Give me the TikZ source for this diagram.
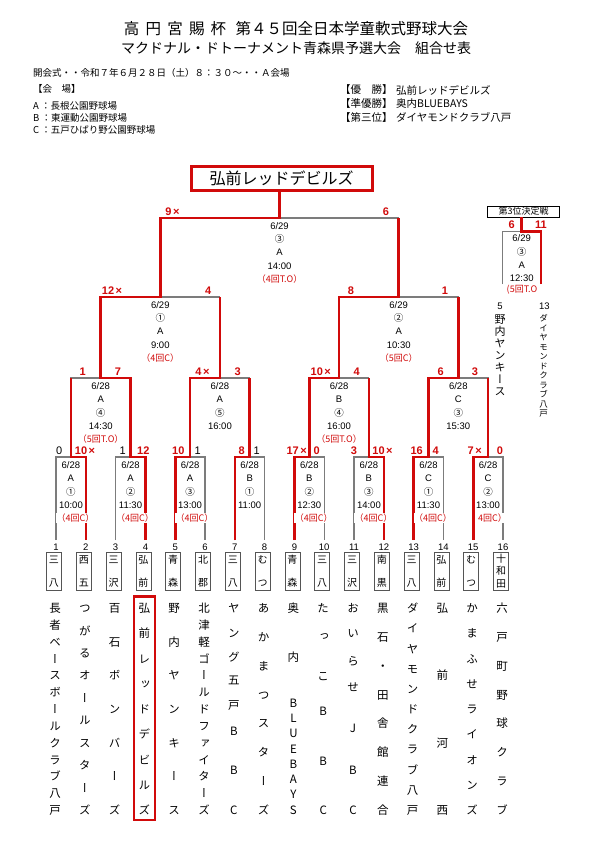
\documentclass[tikz,border=0pt]{standalone}
\usepackage{fontspec}
\setmainfont{Liberation Sans}
\newfontfamily\jp{Noto Sans CJK JP}
\newfontfamily\jpv[RawFeature=+vert]{Noto Sans CJK JP}
\usetikzlibrary{positioning,calc}
\definecolor{winred}{HTML}{D10A0A}
\definecolor{linegray}{HTML}{7C7C7C}
\definecolor{boxgray}{HTML}{555555}
\newcommand\sayo{\hspace{1.5pt}×}
\newcommand\lostscore[1]{{\color{black}\mdseries#1}}
\makeatletter
\newcommand\tate[2]{\edef\tate@list{#2}%
  \vbox to \dimexpr#1+.88em\relax{\offinterlineskip\let\tate@sep\relax
    \expandafter\@tfor\expandafter\tate@c\expandafter:\expandafter=\tate@list\do{%
      \tate@sep\hbox to 1.2em{\hss\smash{\tate@c}\vrule height .88em depth .12em width 0pt\hss}%
      \let\tate@sep\vfill}}}
\makeatother

\begin{document}
\begin{tikzpicture}[x=1pt, y=-1pt,
  bline/.style={draw=linegray, line width=1.1pt},
  wline/.style={draw=winred, line width=2.6pt},
  info/.style={inner sep=0pt, font=\fontsize{9.5}{10}\selectfont},
  result/.style={inner sep=.6pt, fill=white, text=winred, font=\jp\fontsize{9}{9}\selectfont},
  score/.style={inner sep=0pt, text=winred, font=\fontsize{11}{11}\selectfont\bfseries},
  num/.style={inner sep=0pt, font=\fontsize{9.5}{10}\selectfont},
  abbrbox/.style={draw=boxgray, line width=.8pt, minimum width=15pt, minimum height=38pt, inner sep=0pt, font=\jpv\fontsize{10}{10}\selectfont},
  tname/.style={inner sep=0pt, font=\jpv\fontsize{11.5}{12}\selectfont},
  head/.style={inner sep=0pt, anchor=west, font=\jp\fontsize{9.5}{10}\selectfont},
  rank/.style={inner sep=0pt, anchor=west, font=\jp\fontsize{10.5}{11}\selectfont},
]
\fill[white] (0,0) rectangle (595,841);
\useasboundingbox (0,0) rectangle (595,841);

% heading
\node[inner sep=0pt, font=\jp\fontsize{15.5}{16}\selectfont] (title) at (296,29)
  {高\hspace{.4em}円\hspace{.4em}宮\hspace{.4em}賜\hspace{.4em}杯\hspace{.6em}第４５回全日本学童軟式野球大会};
\node[inner sep=0pt, font=\jp\fontsize{14}{14}\selectfont] (subtitle) at (296,48)
  {マクドナル・ドトーナメント青森県予選大会　組合せ表};
\node[head] (opening) at (33,72.5) {開会式・・令和７年６月２８日（土）８：３０～・・Ａ会場};
\node[head] (venues) at (33,89) {【会　場】};
\node[head] (venA) at (33,105.5) {A\ ：長根公園野球場};
\node[head] (venB) at (33,117.5) {B\ ：東運動公園野球場};
\node[head] (venC) at (33,129.5) {C\ ：五戸ひばり野公園野球場};
\node[rank] (rk1) at (340,90) {【優　勝】};
\node[rank, right=3pt of rk1] (rk1n) {弘前レッドデビルズ};
\node[rank] (rk2) at (340,104) {【準優勝】};
\node[rank, right=3pt of rk2] (rk2n) {奥内BLUEBAYS};
\node[rank] (rk3) at (340,117.5) {【第三位】};
\node[rank, right=3pt of rk3] (rk3n) {ダイヤモンドクラブ八戸};

\node[draw=winred, line width=2.6pt, minimum width=181pt, minimum height=24pt, inner sep=0pt,
  font=\jp\fontsize{16}{16}\selectfont] (champ) at (281.7,178.3) {弘前レッドデビルズ};
\node[draw=black, line width=.7pt, minimum width=72pt, minimum height=11pt, inner sep=0pt,
  font=\jp\fontsize{9}{9}\selectfont] (third) at (523.5,211.5) {第3位決定戦};

% junctions
\foreach \i in {1,...,16}
  \coordinate (j0-\i) at ({56+(\i-1)*29.8},540);
\foreach \l/\yt in {1/457,2/378,3/297,4/218} {
  \pgfmathtruncatemacro\nm{16/2^\l}
  \foreach \k in {1,...,\nm}
    \coordinate (j\l-\k) at ({56+((\k-.5)*2^\l-.5)*29.8},\yt);
}
\coordinate (j5-1) at (champ.south);

\foreach \l in {1,...,4} {
  \pgfmathtruncatemacro\nm{16/2^\l}
  \pgfmathtruncatemacro\lm{\l-1}
  \foreach \k in {1,...,\nm} {
    \pgfmathtruncatemacro\ka{2*\k-1}
    \pgfmathtruncatemacro\kb{2*\k}
    \draw[bline] (j\lm-\ka) |- (j\l-\k) -| (j\lm-\kb);
  }
}
\foreach \l/\k/\c in {1/1/2,1/2/4,1/3/5,1/4/7,1/5/9,1/6/12,1/7/13,1/8/15,
                      2/1/2,2/2/3,2/3/5,2/4/7,3/1/1,3/2/3,4/1/1} {
  \pgfmathtruncatemacro\lm{\l-1}
  \pgfmathtruncatemacro\lp{\l+1}
  \pgfmathtruncatemacro\kp{ceil(\k/2)}
  \draw[wline] (j\lm-\c) |- (j\l-\k) -- (j\l-\k |- j\lp-\kp);
}

% scores
\foreach \l/\k/\sl/\xl/\sr/\xr in {
  1/1/\lostscore{0}/59.3/10\sayo/85, 1/2/\lostscore{1}/122.7/12/143.3,
  1/3/10/178.3/\lostscore{1}/197.7, 1/4/8/241.7/\lostscore{1}/256.7,
  1/5/17\sayo/296.7/0/316.7, 1/6/3/354/10\sayo/382.5,
  1/7/16/416.7/4/435.7, 1/8/7\sayo/474.7/0/500,
  2/1/1/82.7/7/118, 2/2/4\sayo/202.5/3/237.7, 2/3/10\sayo/320.8/4/356.7, 2/4/6/440.7/3/475,
  3/1/12\sayo/112/4/208.3, 3/2/8/351/1/445,
  4/1/9\sayo/172.5/6/386} {
  \pgfmathsetmacro\yt{{457,378,297,218}[\l-1]}
  \node[score] (s\l-\k-a) at (\xl,{\yt-6}) {\sl};
  \node[score] (s\l-\k-b) at (\xr,{\yt-6}) {\sr};
}

% game info
\foreach \l/\k/\ia/\ib/\ic/\id in {
  1/1/{6/28}/A/{\jp ①}/10:00, 1/2/{6/28}/A/{\jp ②}/11:30, 1/3/{6/28}/A/{\jp ③}/13:00,
  1/4/{6/28}/B/{\jp ①}/11:00, 1/5/{6/28}/B/{\jp ②}/12:30, 1/6/{6/28}/B/{\jp ③}/14:00,
  1/7/{6/28}/C/{\jp ①}/11:30, 1/8/{6/28}/C/{\jp ②}/13:00,
  2/1/{6/28}/A/{\jp ④}/14:30, 2/2/{6/28}/A/{\jp ⑤}/16:00,
  2/3/{6/28}/B/{\jp ④}/16:00, 2/4/{6/28}/C/{\jp ③}/15:30,
  3/1/{6/29}/{\jp ①}/A/9:00, 3/2/{6/29}/{\jp ②}/A/10:30,
  4/1/{6/29}/{\jp ③}/A/14:00}
  \foreach \t [count=\n] in {\ia,\ib,\ic,\id} {
    \pgfmathsetmacro\dy{8+13.3*(\n-1)}
    \node[info] (i\l-\k-\n) at ($(j\l-\k)+(0,\dy)$) {\t};
  }
\foreach \l/\k/\res in {1/1/（4回C）,1/2/（4回C）,1/3/（4回C）,1/5/（4回C）,1/6/（4回C）,
    1/7/（4回C）,1/8/4回C）,2/1/（5回T.O）,2/3/（5回T.O）,3/1/（4回C）,3/2/（5回C）,4/1/（4回T.O）} {
  \pgfmathsetmacro\dx{\l==1 ? 4.5 : 0}
  \node[result] (r\l-\k) at ($(j\l-\k)+(\dx,61)$) {\res};
}

% third place game
\coordinate (tp-l) at (502.7,284);
\coordinate (tp-r) at (541,284);
\coordinate (tp-c) at (521.7,231.7);
\draw[bline] (tp-l) |- (tp-c) -| (tp-r);
\draw[wline] (tp-r) |- (tp-c) -- (tp-c |- third.south);
\node[score] (tp-sa) at (511.7,225) {6};
\node[score] (tp-sb) at (541,225) {11};
\foreach \t/\yy [count=\n] in {{6/29}/238.3,{\jp ③}/251.7,A/265,12:30/278.3}
  \node[info] (tp-i\n) at (521.7,\yy) {\t};
\node[result, fill=none] (tp-res) at (522,290) {(5回T.O};
\node[num] (tp-na) at (500,306.7) {5};
\node[num] (tp-nb) at (544.3,306.7) {13};
\node[tname, font=\jpv\fontsize{11}{11}\selectfont] (tp-a) at (500,355.3) {\tate{72.7pt}{野内ヤンキース}};
\node[tname, font=\jpv\fontsize{8.5}{9}\selectfont] (tp-b) at (543.5,365.8) {\tate{95pt}{ダイヤモンドクラブ八戸}};

% teams
\foreach \abtxt/\abgap [count=\i] in {三八/23,西五/23,三沢/23,弘前/23,青森/23,北郡/23,三八/23,むつ/23,
    青森/23,三八/23,三沢/23,南黒/23,三八/23,弘前/23,むつ/23,十和田/25} {
  \pgfmathsetmacro\tx{56+(\i-1)*29.8}
  \node[num] (n\i) at (\tx,547) {\i};
  \node[abbrbox] (b\i) at ({\tx-2},571) {\tate{\abgap pt}{\abtxt}};
}
\foreach \i/\nmtxt in {1/長者ベースボールクラブ八戸,2/つがるオールスターズ,3/百石ボンバーズ,
    4/弘前レッドデビルズ,5/野内ヤンキース,6/北津軽ゴールドファイターズ,8/あかまつスターズ,
    12/黒石・田舎館連合,13/ダイヤモンドクラブ八戸,14/弘前河西,15/かまふせライオンズ,16/六戸町野球クラブ} {
  \pgfmathsetmacro\tx{56+(\i-1)*29.8-1}
  \node[tname] (v\i) at (\tx,709.2) {\tate{201.7pt}{\nmtxt}};
}
\foreach \i/\chars in {
    7/{ヤ/608.3,ン/633.3,グ/656.7,五/680,戸/705,B/731.7,B/770,C/810},
    9/{奥/608.3,内/656.7,B/703.3,L/718.5,U/733.8,E/749,B/764.3,A/779.5,Y/794.7,S/810},
    10/{た/608.3,っ/636.7,こ/676.7,B/711.7,B/761.7,C/810},
    11/{お/608.3,い/633.3,ら/661.7,せ/686.7,J/728.3,B/770,C/810}} {
  \pgfmathsetmacro\tx{56+(\i-1)*29.8-1}
  \foreach \c/\yy [count=\q] in \chars
    \node[tname] (v\i-\q) at (\tx,\yy) {\c};
}
\draw[wline, line width=2.2pt] ([xshift=-10.5pt,yshift=6pt]v4.north) rectangle ([xshift=10.5pt,yshift=-4pt]v4.south);
\end{tikzpicture}
\end{document}
